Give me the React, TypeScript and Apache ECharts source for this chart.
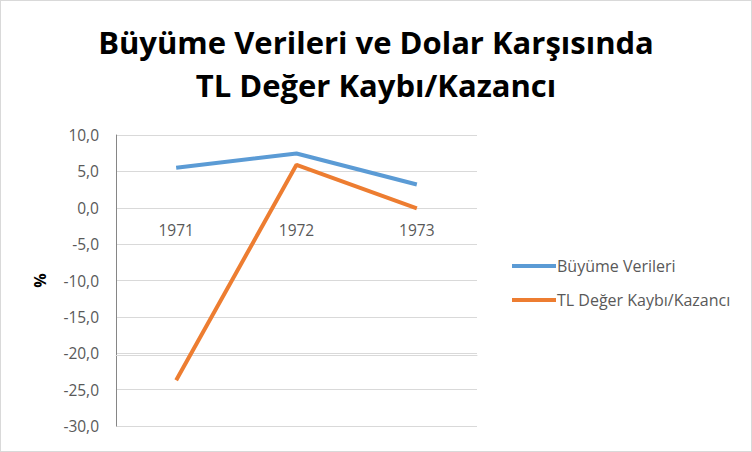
import React, { useEffect, useRef } from "react";
import * as echarts from "echarts";

const years = ["1971", "1972", "1973"];
const buyume = [5.5, 7.45, 3.2];
const tlDeger = [-23.7, 5.9, -0.1];
const seriesNames = ["Büyüme Verileri", "TL Değer Kaybı/Kazancı"];
const colors = ["#5B9BD5", "#ED7D31"];

const App: React.FC = () => {
  const chartRef = useRef<HTMLDivElement>(null);

  useEffect(() => {
    if (!chartRef.current) return;
    const chart = echarts.init(chartRef.current, undefined, { renderer: "svg" });

    chart.setOption({
      animation: false,
      backgroundColor: "#fff",
      textStyle: { fontFamily: "Open Sans" },
      title: {
        text: "Büyüme Verileri ve Dolar Karşısında\nTL Değer Kaybı/Kazancı",
        left: "center",
        top: 14,
        textStyle: {
          fontSize: 31,
          fontWeight: "bold",
          color: "#000",
          lineHeight: 43,
          fontFamily: "Open Sans",
        },
      },
      legend: {
        orient: "vertical",
        left: 506,
        top: 252,
        itemGap: 18,
        itemWidth: 44,
        itemHeight: 4,
        icon: "rect",
        textStyle: { fontSize: 16, color: "#595959", padding: [0, 0, 0, -4] },
        data: seriesNames,
      },
      grid: { left: 115, right: 274, top: 134, bottom: 25 },
      xAxis: {
        type: "category",
        data: years,
        boundaryGap: true,
        offset: -220,
        axisLine: { lineStyle: { color: "#d9d9d9" } },
        axisTick: { show: false },
        axisLabel: { fontSize: 15.5, color: "#595959", margin: 16 },
      },
      yAxis: {
        type: "value",
        min: -30,
        max: 10,
        interval: 5,
        name: "%",
        nameLocation: "middle",
        nameGap: 68,
        nameRotate: 90,
        nameTextStyle: { fontSize: 16, fontWeight: "bold", color: "#000" },
        axisLine: { show: true, lineStyle: { color: "#868686" } },
        axisTick: { show: false },
        axisLabel: {
          fontSize: 15.5,
          color: "#595959",
          margin: 17,
          formatter: (v: number) => v.toFixed(1).replace(".", ","),
        },
        splitLine: { lineStyle: { color: "#d9d9d9" } },
      },
      series: [
        {
          name: seriesNames[0],
          type: "line",
          data: buyume,
          symbol: "none",
          lineStyle: { width: 4, color: colors[0] },
          itemStyle: { color: colors[0] },
        },
        {
          name: seriesNames[1],
          type: "line",
          data: tlDeger,
          symbol: "none",
          lineStyle: { width: 4, color: colors[1] },
          itemStyle: { color: colors[1] },
        },
      ],
    });

    return () => {
      chart.dispose();
    };
  }, []);

  return (
    <div
      style={{
        position: "absolute",
        left: 0,
        top: 0,
        width: 752,
        height: 452,
        boxSizing: "border-box",
        border: "1px solid #d9d9d9",
      }}
    >
      <div ref={chartRef} style={{ width: 750, height: 450 }} />
    </div>
  );
};

export default App;
